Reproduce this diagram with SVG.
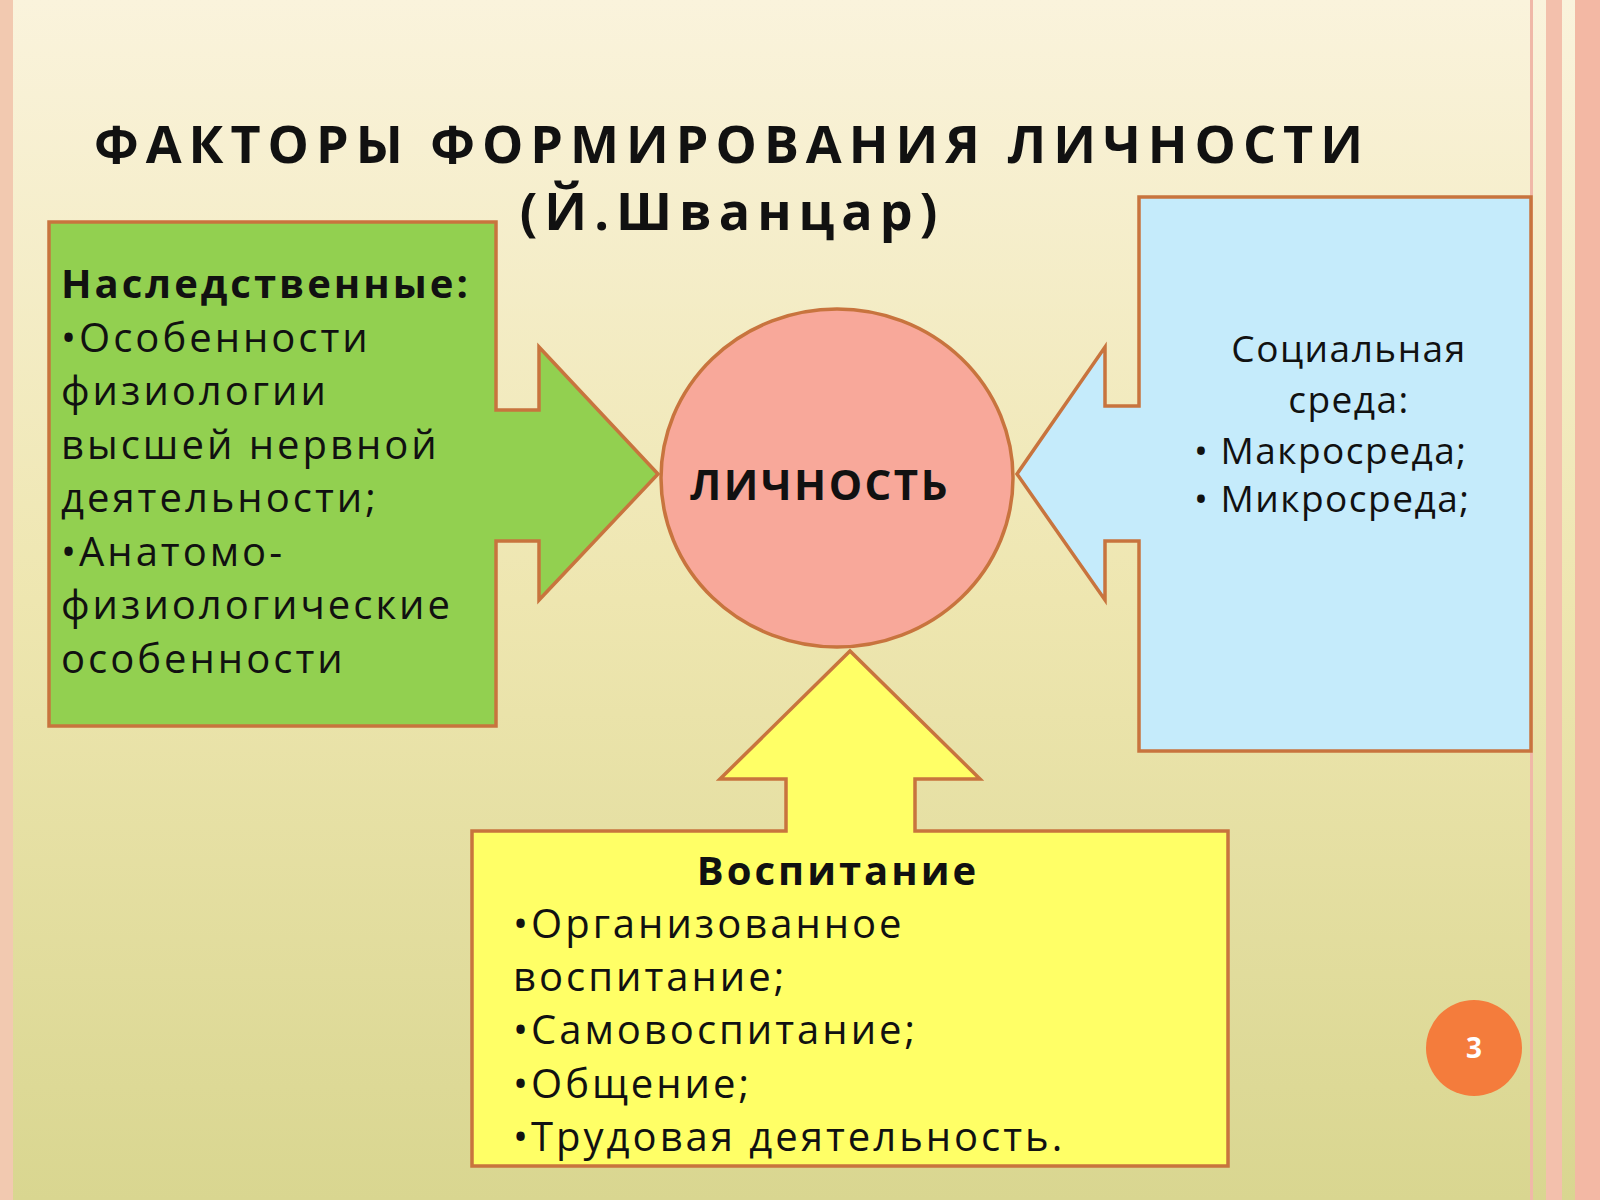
<svg xmlns="http://www.w3.org/2000/svg" width="1600" height="1200" viewBox="0 0 1600 1200">
<defs>
<linearGradient id="bg" x1="0" y1="0" x2="0" y2="1">
<stop offset="0" stop-color="#faf3dc"/><stop offset="0.5" stop-color="#eee6b0"/><stop offset="1" stop-color="#d9d690"/>
</linearGradient>
</defs>
<style>
.sh{stroke:#c8743e;stroke-width:3.5}
.t{font-family:"Open Sans","Noto Sans",sans-serif;fill:#111;font-size:40px;letter-spacing:3px}
.b{font-weight:bold}
.ti{font-size:52px;letter-spacing:7px}
.so{font-size:37px;letter-spacing:1.5px}
.li{font-size:42px;letter-spacing:2.5px}
</style>
<rect width="1600" height="1200" fill="url(#bg)"/>
<rect x="0" y="0" width="13" height="1200" fill="#f2c9b0"/>
<rect x="1530" y="0" width="3" height="1200" fill="#f0b8a8"/>
<rect x="1546" y="0" width="16" height="1200" fill="#f3c0ac"/>
<rect x="1575" y="0" width="25" height="1200" fill="#f3b8a4"/>
<g id="title">
<text class="t b ti" x="732" y="163" text-anchor="middle">ФАКТОРЫ ФОРМИРОВАНИЯ ЛИЧНОСТИ</text>
<text class="t b ti" x="732" y="230" text-anchor="middle">(Й.Шванцар)</text>
</g>
<g id="connectors"></g>
<g id="heredity">
<path class="sh" fill="#92d050" d="M49,222 H496 V410 H539 V347 L658,474 L539,600 V541 H496 V726 H49 Z"/>
<text class="t b" x="61" y="298">Наследственные:</text>
<text class="t" x="61" y="352">•Особенности</text>
<text class="t" x="61" y="405">физиологии</text>
<text class="t" x="61" y="459">высшей нервной</text>
<text class="t" x="61" y="512">деятельности;</text>
<text class="t" x="61" y="566">•Анатомо-</text>
<text class="t" x="61" y="619">физиологические</text>
<text class="t" x="61" y="673">особенности</text>
</g>
<g id="social">
<path class="sh" fill="#c5ebfb" d="M1139,197 H1531 V751 H1139 V541 H1105 V600 L1017,474 L1105,347 V406 H1139 Z"/>
<text class="t so" x="1349" y="362" text-anchor="middle">Социальная</text>
<text class="t so" x="1349" y="413" text-anchor="middle">среда:</text>
<text class="t so" x="1194" y="464">• Макросреда;</text>
<text class="t so" x="1194" y="512">• Микросреда;</text>
</g>
<g id="upbringing">
<path class="sh" fill="#ffff66" d="M472,831 H786 V779 H720 L850,651 L980,779 H915 V831 H1228 V1166 H472 Z"/>
<text class="t b" x="838" y="885" text-anchor="middle">Воспитание</text>
<text class="t" x="513" y="938">•Организованное</text>
<text class="t" x="513" y="991">воспитание;</text>
<text class="t" x="513" y="1044">•Самовоспитание;</text>
<text class="t" x="513" y="1098">•Общение;</text>
<text class="t" x="513" y="1151">•Трудовая деятельность.</text>
</g>
<g id="personality">
<ellipse class="sh" cx="837" cy="478" rx="176" ry="169" fill="#f8a89a"/>
<text class="t b li" x="820" y="500" text-anchor="middle">ЛИЧНОСТЬ</text>
</g>
<g id="page">
<circle cx="1474" cy="1048" r="48" fill="#f47c3c"/>
<text x="1474" y="1058" text-anchor="middle" font-family="Open Sans,sans-serif" font-weight="bold" font-size="28" fill="#fff">3</text>
</g>
</svg>
